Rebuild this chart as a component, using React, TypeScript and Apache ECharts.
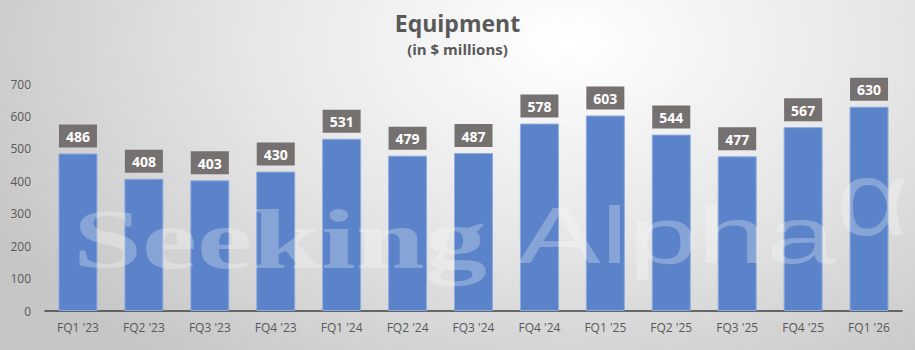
import React, { useEffect, useRef } from "react";
import * as echarts from "echarts";

const categories = ["FQ1 '23", "FQ2 '23", "FQ3 '23", "FQ4 '23", "FQ1 '24", "FQ2 '24", "FQ3 '24", "FQ4 '24", "FQ1 '25", "FQ2 '25", "FQ3 '25", "FQ4 '25", "FQ1 '26"];
const equipment = [486, 408, 403, 430, 531, 479, 487, 578, 603, 544, 477, 567, 630];
const titleText = "Equipment";
const subtitleText = "(in $ millions)";

const wm = "rgba(255,255,255,0.27)";

export default function App() {
  const ref = useRef<HTMLDivElement>(null);
  useEffect(() => {
    if (!ref.current) return;
    const chart = echarts.init(ref.current, undefined, { renderer: "svg" });
    chart.setOption({
      animation: false,
      backgroundColor: "transparent",
      title: [
        {
          text: titleText,
          left: "center",
          top: 6,
          textStyle: { fontFamily: "Open Sans", fontWeight: "bold", fontSize: 23, color: "#595959" },
        },
        {
          text: subtitleText,
          left: "center",
          top: 36,
          textStyle: { fontFamily: "Open Sans", fontWeight: "bold", fontSize: 15, color: "#595959" },
        },
      ],
      grid: { left: 45, right: 13, top: 84, bottom: 39 },
      xAxis: {
        type: "category",
        data: categories,
        axisTick: { show: false },
        axisLine: { lineStyle: { color: "#404040", width: 1.5 } },
        axisLabel: { color: "#595959", fontSize: 12, fontFamily: "Open Sans", margin: 10 },
      },
      yAxis: {
        type: "value",
        min: 0,
        max: 700,
        interval: 100,
        splitLine: { show: false },
        axisLine: { show: false },
        axisTick: { show: false },
        axisLabel: { color: "#595959", fontSize: 12, fontFamily: "Open Sans", margin: 14 },
      },
      series: [
        {
          type: "bar",
          data: equipment,
          barWidth: 39,
          itemStyle: { color: "#5b83c9", borderColor: "#8eabe0", borderWidth: 1 },
          label: {
            show: true,
            position: "top",
            distance: 6,
            backgroundColor: "#767171",
            color: "#ffffff",
            fontWeight: "bold",
            fontSize: 14,
            fontFamily: "Open Sans",
            padding: [5, 7, 4, 7],
          },
        },
      ],
      graphic: [
        {
          type: "text",
          x: 73,
          y: 197,
          scaleX: 1.46,
          z: 100,
          silent: true,
          style: {
            text: "Seeking",
            font: "bold 85px 'Liberation Serif'",
            fill: wm,
            verticalAlign: "top",
          },
        },
        {
          type: "text",
          x: 518,
          y: 195,
          scaleX: 1.55,
          z: 100,
          silent: true,
          style: {
            text: "Alpha",
            font: "80px 'Liberation Sans'",
            fill: wm,
            verticalAlign: "top",
          },
        },
        {
          type: "text",
          x: 836,
          y: 146,
          scaleX: 1.2,
          z: 100,
          silent: true,
          style: {
            text: "α",
            font: "105px 'Liberation Sans'",
            fill: wm,
            verticalAlign: "top",
          },
        },
      ],
    });
    return () => chart.dispose();
  }, []);
  return (
    <div
      ref={ref}
      style={{
        position: "absolute",
        left: 0,
        top: 0,
        width: 915,
        height: 350,
        background: "radial-gradient(ellipse 70% 115% at 62% 12%, #ffffff 0%, #e6e6e6 50%, #c6c6c6 100%)",
      }}
    />
  );
}
